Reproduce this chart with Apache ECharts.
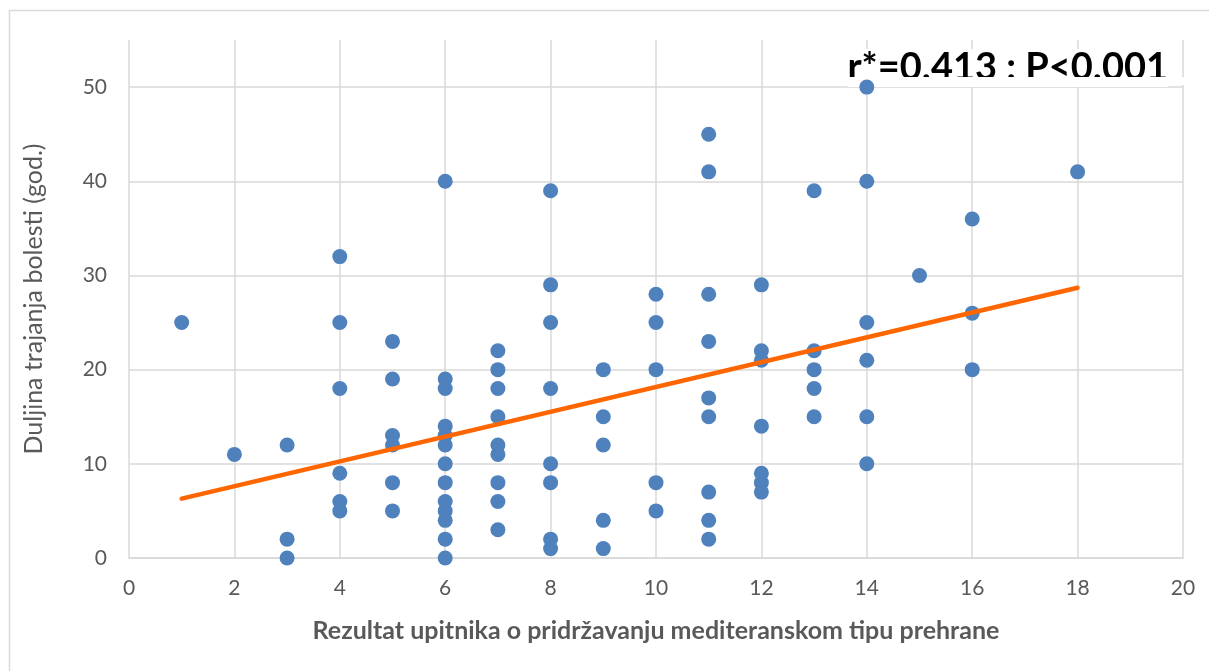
<!DOCTYPE html>
<html>
<head>
<meta charset="utf-8">
<script src="https://cdn.jsdelivr.net/npm/echarts@6/dist/echarts.min.js"></script>
<style>
  html, body { margin: 0; padding: 0; background: #fff; }
  #main { width: 1209px; height: 671px; }
</style>
</head>
<body>
<div id="main"></div>
<script>
// questionnaire score (x) and disease duration in years (y)
var scores = [
  1,
  2,
  3, 3, 3,
  4, 4, 4, 4, 4, 4,
  5, 5, 5, 5, 5, 5,
  6, 6, 6, 6, 6, 6, 6, 6, 6, 6, 6, 6, 6,
  7, 7, 7, 7, 7, 7, 7, 7, 7,
  8, 8, 8, 8, 8, 8, 8, 8,
  9, 9, 9, 9, 9,
  10, 10, 10, 10, 10,
  11, 11, 11, 11, 11, 11, 11, 11, 11,
  12, 12, 12, 12, 12, 12, 12,
  13, 13, 13, 13, 13,
  14, 14, 14, 14, 14, 14,
  15,
  16, 16, 16,
  18
]
var durations = [
  25,
  11,
  12, 2, 0,
  32, 25, 18, 9, 6, 5,
  23, 19, 13, 12, 8, 5,
  40, 19, 18, 14, 13, 12, 10, 8, 6, 5, 4, 2, 0,
  22, 20, 18, 15, 12, 11, 8, 6, 3,
  39, 29, 25, 18, 10, 8, 2, 1,
  20, 15, 12, 4, 1,
  28, 25, 20, 8, 5,
  45, 41, 28, 23, 17, 15, 7, 4, 2,
  29, 22, 21, 14, 9, 8, 7,
  39, 22, 20, 18, 15,
  50, 40, 25, 21, 15, 10,
  30,
  36, 26, 20,
  41
]
// linear trend line ends as drawn
var trendX = [1, 18]
var trendY = [6.3, 28.7]

var xTitle = 'Rezultat upitnika o pridržavanju mediteranskom tipu prehrane'
var yTitle = 'Duljina trajanja bolesti (god.)'
var statText = 'r*=0.413 : P<0.001'

var points = []
for (var i = 0; i < scores.length; i++) {
  points.push([scores[i], durations[i]])
}
var trend = []
for (var j = 0; j < trendX.length; j++) {
  trend.push([trendX[j], trendY[j]])
}

var myChart = echarts.init(document.getElementById('main'))
var labelFont = 'Lato, "Open Sans", sans-serif'
var gridColor = '#d9d9d9'

var option = {
  backgroundColor: '#fff',
  animation: false,
  grid: {
    left: 129,
    right: 26,
    top: 40,
    bottom: 113
  },
  xAxis: {
    type: 'value',
    min: 0,
    max: 20,
    interval: 2,
    name: xTitle,
    nameLocation: 'middle',
    nameGap: 60,
    nameTextStyle: {
      color: '#595959',
      fontFamily: labelFont,
      fontWeight: 'bold',
      fontSize: 25
    },
    axisLine: { show: true, lineStyle: { color: gridColor, width: 1.5 } },
    axisTick: { show: false },
    axisLabel: {
      color: '#595959',
      fontFamily: labelFont,
      fontSize: 21,
      margin: 20
    },
    splitLine: { show: true, lineStyle: { color: gridColor, width: 1.5 } }
  },
  yAxis: {
    type: 'value',
    min: 0,
    max: 55,
    interval: 10,
    name: yTitle,
    nameLocation: 'middle',
    nameGap: 83,
    nameTextStyle: {
      color: '#595959',
      fontFamily: labelFont,
      fontSize: 25
    },
    axisLine: { show: false },
    axisTick: { show: false },
    axisLabel: {
      color: '#595959',
      fontFamily: labelFont,
      fontSize: 21,
      margin: 22,
      showMaxLabel: false
    },
    splitLine: {
      show: true,
      showMaxLine: false,
      lineStyle: { color: gridColor, width: 1.5 }
    }
  },
  graphic: [
    // outer chart frame (only top and left edges are in frame)
    { type: 'line', z: 1, shape: { x1: 9, y1: 10.5, x2: 1209, y2: 10.5 }, style: { stroke: gridColor, lineWidth: 1.5 } },
    { type: 'line', z: 1, shape: { x1: 9.5, y1: 10, x2: 9.5, y2: 671 }, style: { stroke: gridColor, lineWidth: 1.5 } },
    // stat text box, bottom of the text is cut off like in the source
    {
      type: 'text',
      z: 1,
      right: 41,
      top: 49,
      style: {
        text: statText,
        fill: '#000',
        font: 'bold 38px Lato, "Open Sans", sans-serif',
        backgroundColor: '#fff'
      }
    },
    { type: 'rect', z: 1, shape: { x: 830, y: 77, width: 360, height: 8 }, style: { fill: '#fff' } }
  ],
  series: [
    {
      name: 'points',
      type: 'scatter',
      data: points,
      symbol: 'circle',
      symbolSize: 15,
      z: 3,
      itemStyle: { color: '#4f81bd', opacity: 1 }
    },
    {
      name: 'trend',
      type: 'line',
      data: trend,
      showSymbol: false,
      symbol: 'none',
      z: 4,
      lineStyle: { color: '#ff6600', width: 4.5, cap: 'round' }
    }
  ]
}
myChart.setOption(option)
</script>
</body>
</html>
